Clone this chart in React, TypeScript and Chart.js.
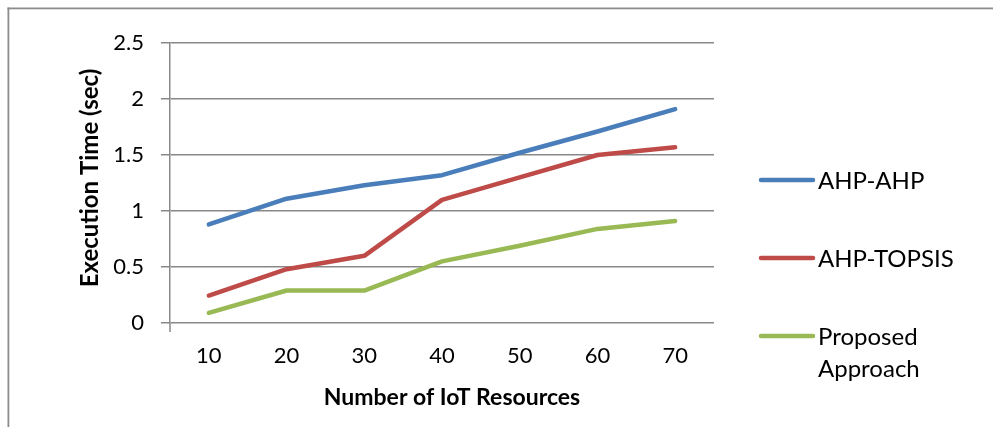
import React, { useEffect, useRef } from "react";
import { Chart, registerables } from "chart.js";

Chart.register(...registerables);

const categories = ["10", "20", "30", "40", "50", "60", "70"];
const ahpAhp = [0.88, 1.11, 1.23, 1.32, 1.52, 1.71, 1.91];
const ahpTopsis = [0.245, 0.48, 0.6, 1.1, 1.3, 1.5, 1.57];
const proposed = [0.09, 0.29, 0.29, 0.55, 0.69, 0.84, 0.91];
const seriesNames = ["AHP-AHP", "AHP-TOPSIS", ["Proposed", "Approach"]];
const seriesColors = ["#4A7EBB", "#BE4B48", "#98B954"];
const xTitle = "Number of IoT Resources";
const yTitle = "Execution Time (sec)";

const FONT = "Lato, 'Open Sans', sans-serif";
const GRID = "#888888";

const decorPlugin = {
  id: "decor",
  afterDraw(chart: any) {
    const ctx = chart.ctx;
    const area = chart.chartArea;
    ctx.save();
    // outer frame (top and left)
    ctx.fillStyle = "#8c8c8c";
    ctx.fillRect(7.5, 7.5, 993, 1.8);
    ctx.fillRect(7.5, 7.5, 1.8, 427);
    // left tick below axis
    ctx.strokeStyle = GRID;
    ctx.lineWidth = 1.5;
    ctx.beginPath();
    ctx.moveTo(area.left, area.bottom);
    ctx.lineTo(area.left, area.bottom + 9);
    ctx.stroke();
    // axis titles
    ctx.fillStyle = "#000";
    ctx.textAlign = "center";
    ctx.textBaseline = "middle";
    ctx.font = `bold 23px ${FONT}`;
    ctx.fillText(xTitle, (area.left + area.right) / 2 + 10, 398);
    ctx.save();
    ctx.font = `bold 24px ${FONT}`;
    ctx.translate(90, 178);
    ctx.rotate(-Math.PI / 2);
    ctx.fillText(yTitle, 0, 0);
    ctx.restore();
    // legend
    const ys = [180, 258, 336];
    ctx.font = `24px ${FONT}`;
    ctx.textAlign = "left";
    seriesNames.forEach((name, i) => {
      const y = ys[i];
      ctx.strokeStyle = seriesColors[i];
      ctx.lineWidth = 4.5;
      ctx.lineCap = "round";
      ctx.beginPath();
      ctx.moveTo(761, y);
      ctx.lineTo(813, y);
      ctx.stroke();
      ctx.fillStyle = "#000";
      const lines = Array.isArray(name) ? name : [name];
      lines.forEach((t, j) => {
        ctx.fillText(t, 818, y + 1 + j * 32);
      });
    });
    ctx.restore();
  },
};

export default function App() {
  const ref = useRef<HTMLCanvasElement>(null);
  useEffect(() => {
    if (!ref.current) return;
    const mk = (label: string, data: number[], color: string) => ({
      label,
      data,
      borderColor: color,
      backgroundColor: color,
      borderWidth: 4.5,
      pointRadius: 0,
      pointHoverRadius: 0,
      tension: 0,
      borderCapStyle: "round" as const,
      borderJoinStyle: "round" as const,
    });
    const chart = new Chart(ref.current, {
      type: "line",
      data: {
        labels: categories,
        datasets: [
          mk("AHP-AHP", ahpAhp, seriesColors[0]),
          mk("AHP-TOPSIS", ahpTopsis, seriesColors[1]),
          mk("Proposed Approach", proposed, seriesColors[2]),
        ],
      },
      options: {
        animation: false,
        responsive: false,
        events: [],
        layout: { padding: { left: 0, top: 43, right: 279, bottom: 0 } },
        plugins: { legend: { display: false }, tooltip: { enabled: false }, title: { display: false } },
        scales: {
          x: {
            offset: true,
            grid: { display: false, drawTicks: false },
            border: { display: false },
            ticks: { color: "#000", font: { family: FONT, size: 22 }, padding: 20, maxRotation: 0 },
            afterFit: (s: any) => { s.height = 104; },
          },
          y: {
            min: 0,
            max: 2.5,
            ticks: {
              stepSize: 0.5,
              color: "#000",
              font: { family: FONT, size: 22 },
              padding: 17,
              callback: (v: any) => String(v),
            },
            grid: { color: GRID, lineWidth: 1.5, tickLength: 9, drawTicks: true },
            border: { display: true, color: GRID, width: 1.5 },
            afterFit: (s: any) => { s.width = 170; },
          },
        },
      },
      plugins: [decorPlugin],
    });
    return () => chart.destroy();
  }, []);
  return (
    <canvas
      ref={ref}
      width={993}
      height={427}
      style={{ position: "fixed", left: 0, top: 0, width: 993, height: 427, background: "#fff" }}
    />
  );
}
